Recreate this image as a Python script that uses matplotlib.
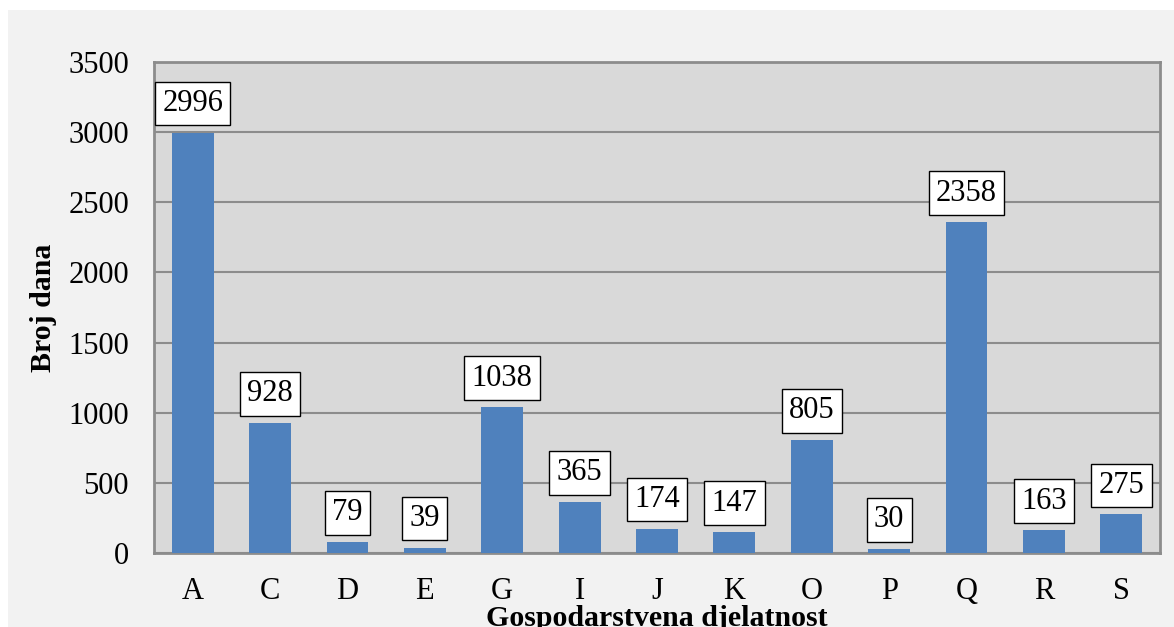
import numpy as np
import matplotlib
matplotlib.use('Agg')
import matplotlib.pyplot as plt
from matplotlib.patches import Rectangle

categories = ['A', 'C', 'D', 'E', 'G', 'I', 'J', 'K', 'O', 'P', 'Q', 'R', 'S']
values = [2996, 928, 79, 39, 1038, 365, 174, 147, 805, 30, 2358, 163, 275]

plt.rcParams['font.family'] = ['Liberation Serif', 'DejaVu Serif']

fig = plt.figure(figsize=(11.74, 6.27), dpi=100, facecolor='white')
# light gray chart area inset from the top-left corner
fig.patches.append(Rectangle((8 / 1174, 0), 1 - 8 / 1174, 1 - 10 / 627,
                             transform=fig.transFigure, facecolor='#f2f2f2',
                             edgecolor='none', zorder=-1))

ax = fig.add_axes([154 / 1174, 1 - 553 / 627, (1160 - 154) / 1174, (553 - 62) / 627])
ax.set_facecolor('#d9d9d9')

x = np.arange(len(categories))
ax.bar(x, values, width=0.54, color='#4f81bd', zorder=3)

for xi, v in zip(x, values):
    ax.annotate(str(v), (xi, v), xytext=(0, 10.5), textcoords='offset points',
                ha='center', va='bottom', fontsize=22, zorder=4,
                bbox=dict(boxstyle='square,pad=0.24', facecolor='white',
                          edgecolor='black', linewidth=1))

ax.set_xlim(-0.5, len(categories) - 0.5)
ax.set_ylim(0, 3500)
ax.set_yticks(np.arange(0, 3501, 500))
ax.set_xticks(x)
ax.set_xticklabels(categories)
ax.tick_params(axis='both', labelsize=22, length=0)
ax.tick_params(axis='x', pad=17)
ax.tick_params(axis='y', pad=18)
ax.grid(axis='y', color='#8c8c8c', linewidth=1.5, zorder=1)
for s in ax.spines.values():
    s.set_color('#8c8c8c')
    s.set_linewidth(2)

ax.set_ylabel('Broj dana', fontsize=21.5, fontweight='bold')
ax.yaxis.set_label_coords(-0.096, 0.5)
ax.set_xlabel('Gospodarstvena djelatnost', fontsize=21.5, fontweight='bold')
ax.xaxis.set_label_coords(0.5, -0.106)

fig.savefig('out.png', dpi=100, facecolor=fig.get_facecolor())
